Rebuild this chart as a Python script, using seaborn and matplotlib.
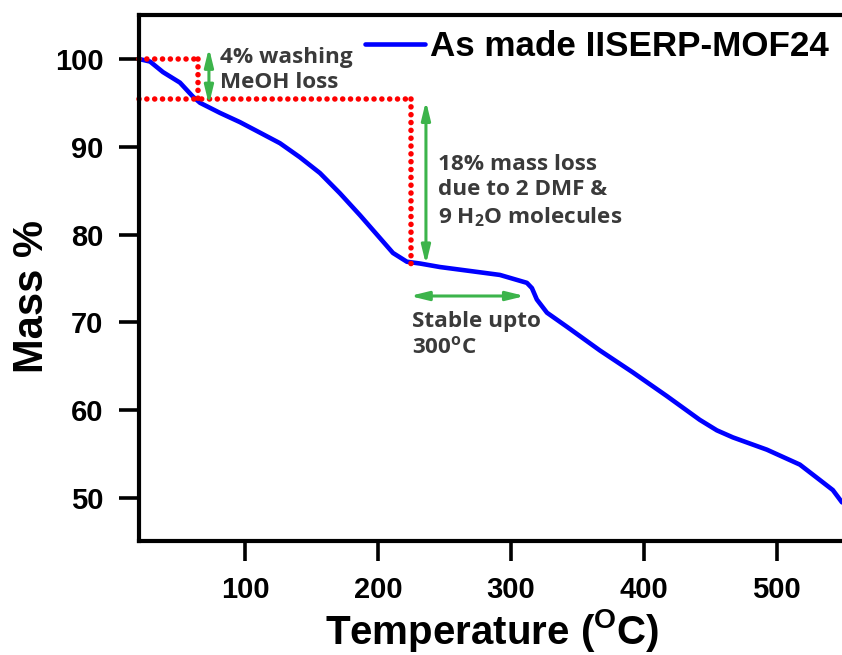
import matplotlib
matplotlib.use("Agg")
import matplotlib.pyplot as plt
import seaborn as sns
import pandas as pd

# TGA trace of as-made IISERP-MOF24
temperature = [20, 28.6, 38.3, 51.1, 60.9, 66.2, 81.2, 96.2, 111.3, 126.3, 141.3,
               156.4, 171.4, 186.5, 201.5, 211.3, 221.8, 231.6, 246.6, 276.7,
               291.7, 312.0, 315.8, 319.5, 327.1, 342.1, 366.9, 391.7, 417.3,
               442.0, 454.9, 466.9, 492.5, 517.3, 532.3, 542.1, 549.0]
mass = [100.0, 99.7, 98.5, 97.3, 95.7, 95.0, 93.85, 92.8, 91.6, 90.4, 88.8,
        87.0, 84.7, 82.2, 79.6, 77.9, 76.9, 76.7, 76.3, 75.7,
        75.4, 74.5, 73.9, 72.6, 71.1, 69.5, 66.8, 64.3, 61.6,
        58.9, 57.7, 56.9, 55.5, 53.8, 52.05, 50.9, 49.5]
series_label = "As made IISERP-MOF24"

x_ticks = [100, 200, 300, 400, 500]
y_ticks = [50, 60, 70, 80, 90, 100]

# step markers (temperature / mass levels)
step1_T, step2_T = 64.7, 224.5
level_start, level_mid, level_end = 100.0, 95.4, 76.5

sns.set_theme(style="ticks")
plt.rcParams["font.family"] = ["Liberation Sans", "DejaVu Sans"]
plt.rcParams["mathtext.fontset"] = "custom"
plt.rcParams["mathtext.rm"] = "Open Sans:bold"
plt.rcParams["mathtext.bf"] = "Liberation Sans:bold"
for key in ["text.color", "axes.labelcolor", "xtick.color", "ytick.color",
            "axes.edgecolor"]:
    plt.rcParams[key] = "black"

W, H = 842, 655
fig = plt.figure(figsize=(W / 100, H / 100), dpi=100)
ax = fig.add_axes([139 / W, 1 - 541 / H, 707 / W, 526 / H])

df = pd.DataFrame({"Temperature": temperature, "Mass": mass})
sns.lineplot(data=df, x="Temperature", y="Mass", ax=ax, color="#0000ff",
             linewidth=3.3, label=series_label, sort=False,
             solid_joinstyle="round", solid_capstyle="round")

ax.set_xlim(20.3, 552)
ax.set_ylim(45.1, 105.0)
ax.set_xticks(x_ticks)
ax.set_yticks(y_ticks)

for s in ["left", "bottom", "top"]:
    ax.spines[s].set_linewidth(3.0)
    ax.spines[s].set_color("black")
ax.spines["right"].set_visible(False)
ax.tick_params(axis="both", direction="out", length=14.5, width=2.6,
               color="black", labelcolor="black", pad=11, labelsize=21)
ax.tick_params(top=False, right=False)
for lab in ax.get_xticklabels() + ax.get_yticklabels():
    lab.set_fontweight("bold")

ax.set_xlabel(r"Temperature ($^\mathbf{O}$C)", fontsize=29, fontweight="bold",
              labelpad=2)
ax.set_ylabel("Mass %", fontsize=30, fontweight="bold")
ax.yaxis.set_label_coords(-0.123, 0.464)

# red dotted guides
dot = dict(color="#ff0000", linewidth=4.0, linestyle=(0, (0.01, 1.4)),
           dash_capstyle="round", clip_on=False)
ax.plot([20.3, step1_T], [level_start, level_start], **dot)
ax.plot([step1_T, step1_T], [level_start, level_mid], **dot)
ax.plot([20.3, step2_T], [level_mid, level_mid], **dot)
ax.plot([step2_T, step2_T], [level_mid, level_end], **dot)

# green double arrows
green = "#3cb44b"
arrow = dict(arrowstyle="<|-|>,head_length=0.9,head_width=0.22",
             color=green, lw=2.2, shrinkA=0, shrinkB=0)
ax.annotate("", xy=(72.9, 101.25), xytext=(72.9, 94.8), arrowprops=arrow)
ax.annotate("", xy=(236.1, 95.2), xytext=(236.1, 76.6), arrowprops=arrow)
ax.annotate("", xy=(224, 73.0), xytext=(310.5, 73.0), arrowprops=arrow)

note = dict(fontsize=16.2, color="#3a3a3a", fontweight="bold",
            family=["Open Sans", "DejaVu Sans"], linespacing=1.25)
ax.text(81.2, 98.75, "4% washing\nMeOH loss", va="center", ha="left", **note)
ax.text(245.1, 84.9, "18% mass loss\ndue to 2 DMF &\n9 H$_2$O molecules",
        va="center", ha="left", **note)
ax.text(225.6, 68.6, "Stable upto\n300$^{\\rm o}$C", va="center", ha="left", **note)

leg = ax.legend(loc="upper left", bbox_to_anchor=(365 / W, 1 - 30 / H),
                bbox_transform=fig.transFigure, frameon=False,
                handlelength=1.7, handletextpad=0.15, borderpad=0,
                borderaxespad=0,
                prop={"family": "Liberation Sans", "weight": "bold", "size": 25.2})

fig.savefig("out.png", dpi=100)
